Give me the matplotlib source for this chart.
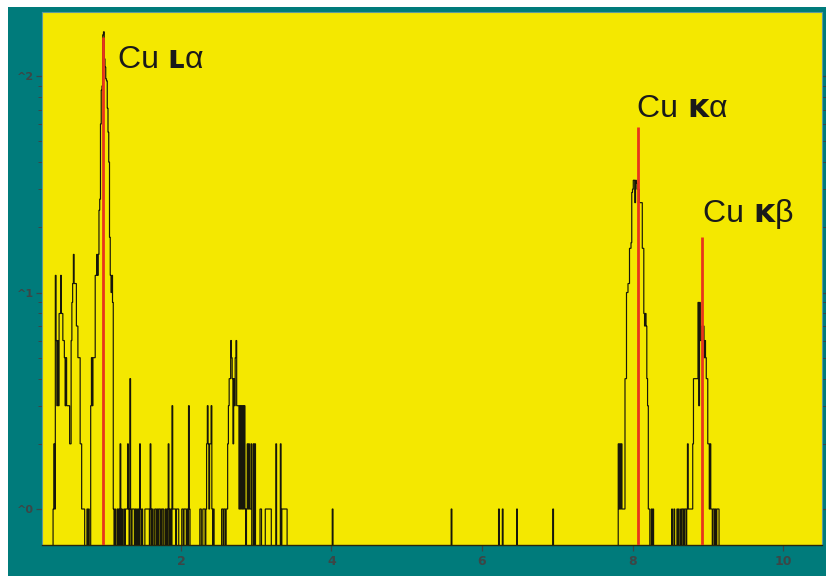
import numpy as np
import matplotlib
matplotlib.use("Agg")
import matplotlib.pyplot as plt
from matplotlib.patches import Rectangle
from matplotlib.ticker import FixedLocator, FixedFormatter, NullFormatter

# ---- spectrum data (counts per 10 eV channel) ----
CHANNEL_KEV = 0.01
E_MIN, E_MAX = 0.15, 10.52

# C/O region and Cu L-alpha peak, consecutive channels from 0.30 keV
low_start = 0.30
low_counts = [1, 2, 1, 12, 6, 3, 6, 3, 8, 8,
              12, 8, 8, 6, 6, 5, 3, 5, 3, 3,
              3, 3, 2, 2, 6, 9, 11, 15, 11, 11,
              11, 7, 7, 5, 5, 5, 2, 2, 1, 1,
              1, 1, 0, 0, 0, 1, 0, 1, 0, 0,
              3, 5, 3, 5, 5, 5, 12, 12, 15, 12,
              15, 24, 27, 60, 86, 90, 155, 160, 120, 110,
              97, 95, 71, 55, 40, 18, 12, 10, 12, 9]

# cluster around 2.6-3.0 keV
cluster_start = 2.62
cluster_counts = [2, 3, 4, 4, 6, 5, 4, 2, 4, 3,
                  5, 6, 3, 3, 3, 1, 3, 1, 3, 1,
                  3, 1, 3, 1, 0, 1, 2, 1, 2, 1,
                  1, 2, 0, 0, 2]

# Cu K-alpha peak, consecutive channels from 7.81 keV
ka_start = 7.81
ka_counts = [2, 1, 2, 1, 2, 1, 1, 1, 1, 4,
             4, 10, 10, 11, 11, 16, 16, 17, 29, 30,
             33, 33, 26, 33, 32, 30, 30, 30, 26, 26,
             26, 26, 16, 16, 8, 7, 8, 7, 4, 3,
             1, 1, 0, 0, 1, 0, 1]

# Cu K-beta peak, consecutive channels from 8.52 keV
kb_start = 8.52
kb_counts = [1, 0, 0, 1, 0, 0, 0, 1, 0, 1,
             0, 0, 1, 0, 1, 1, 0, 1, 1, 0,
             1, 2, 1, 1, 1, 1, 1, 1, 2, 4,
             4, 4, 4, 4, 4, 9, 3, 9, 6, 6,
             7, 6, 7, 5, 6, 5, 4, 4, 2, 2,
             1, 2, 1, 1, 0, 1, 1, 0, 1, 0,
             1, 1, 1]

# isolated channels
single_kev = [1.10, 1.12, 1.15, 1.17, 1.19, 1.21, 1.24, 1.26, 1.27, 1.28,
              1.29, 1.30, 1.32, 1.33, 1.35, 1.36, 1.37, 1.39, 1.41, 1.43,
              1.45, 1.46, 1.48, 1.52, 1.53, 1.54, 1.55, 1.56, 1.57, 1.59,
              1.60, 1.62, 1.65, 1.66, 1.68, 1.70, 1.71, 1.73, 1.75, 1.76,
              1.79, 1.81, 1.83, 1.84, 1.86, 1.88, 1.89, 1.90, 1.91, 1.92,
              1.94, 1.95, 1.96, 2.01, 2.02, 2.04, 2.05, 2.06, 2.08, 2.10,
              2.11, 2.25, 2.26, 2.29, 2.30, 2.31, 2.33, 2.34, 2.35, 2.36,
              2.37, 2.38, 2.39, 2.40, 2.41, 2.43, 2.54, 2.55, 2.57, 2.58,
              2.60, 2.61, 2.98, 3.05, 3.06, 3.12, 3.13, 3.14, 3.15, 3.16,
              3.17, 3.18, 3.19, 3.26, 3.32, 3.34, 3.35, 3.36, 3.37, 3.38,
              3.39, 3.40, 4.01, 5.59, 6.22, 6.27, 6.46, 6.94]
single_counts = [1, 1, 1, 1, 2, 1, 1, 1, 1, 1,
                 2, 1, 4, 1, 1, 1, 1, 1, 1, 1,
                 2, 1, 1, 1, 1, 1, 1, 1, 1, 2,
                 1, 1, 1, 1, 1, 1, 1, 1, 1, 1,
                 1, 1, 2, 1, 1, 3, 1, 1, 1, 1,
                 1, 1, 1, 1, 1, 1, 1, 1, 1, 3,
                 1, 1, 1, 1, 1, 1, 1, 2, 3, 2,
                 1, 2, 2, 3, 1, 1, 1, 1, 1, 1,
                 1, 1, 2, 1, 1, 1, 1, 1, 1, 1,
                 1, 1, 1, 2, 2, 1, 1, 1, 1, 1,
                 1, 1, 1, 1, 1, 1, 1, 1]

# Cu reference lines: element, small-capital shell letter, Greek suffix
line_element = ["Cu ", "Cu ", "Cu "]
line_shell = ["ʟ", "ᴋ", "ᴋ"]
line_greek = ["α", "α", "β"]
line_kev = [0.96, 8.07, 8.93]
line_heights = [152, 58, 18]
label_kev = [1.16, 8.06, 8.94]
label_counts = [109, 64.7, 21.2]

x_ticks = [2, 4, 6, 8, 10]
y_ticks = [1, 10, 100]
y_tick_labels = ["^0", "^1", "^2"]

# ---- assemble the channel array ----
n_chan = int(round((E_MAX - E_MIN) / CHANNEL_KEV))
edges = E_MIN + CHANNEL_KEV * np.arange(n_chan + 1)
spectrum = np.zeros(n_chan)


def chan(e):
    return int(round((e - E_MIN) / CHANNEL_KEV))


for start, vals in [(low_start, low_counts), (cluster_start, cluster_counts),
                    (ka_start, ka_counts), (kb_start, kb_counts)]:
    i0 = chan(start)
    spectrum[i0:i0 + len(vals)] = vals
for e, c in zip(single_kev, single_counts):
    spectrum[chan(e)] = c

# ---- figure ----
W, H = 826, 576
YELLOW = "#f4e800"
TEAL = "#007b7b"
TICK_GREY = "#3c4646"
FAMILY = ["Liberation Sans", "DejaVu Sans"]
LABEL_SIZE = 23

fig = plt.figure(figsize=(W / 100, H / 100), dpi=100, facecolor="white")
frame = Rectangle((8 / W, 0), 1 - 8 / W, 1 - 7 / H,
                  transform=fig.transFigure, facecolor=TEAL,
                  edgecolor="none", zorder=-10)
fig.add_artist(frame)

ax = fig.add_axes([42 / W, 31 / H, 780 / W, 533 / H], zorder=1)
ax.set_facecolor(YELLOW)
ax.set_yscale("log")
ax.set_xlim(0.153, 10.518)
ax.set_ylim(0.682, 197.5)

ax.stairs(spectrum, edges, baseline=None, color="#17170a", lw=0.85, zorder=3)

ax.vlines(line_kev, 0.682, line_heights, colors="#e8361c", lw=2.0, zorder=4)

# labels: "Cu" + bold small-capital shell letter + Greek line index
for el, sh, gr, ex, cy in zip(line_element, line_shell, line_greek,
                              label_kev, label_counts):
    t1 = ax.text(ex, cy, el, ha="left", va="baseline", fontsize=LABEL_SIZE,
                 family=FAMILY, color="#1a1a1a", zorder=5)
    t2 = ax.annotate(sh, xy=(1, 0), xycoords=t1, ha="left", va="bottom",
                     fontsize=LABEL_SIZE, fontweight="bold",
                     family=["DejaVu Sans"], color="#1a1a1a", zorder=5)
    ax.annotate(gr, xy=(1, 0), xycoords=t2, ha="left", va="bottom",
                fontsize=LABEL_SIZE, family=FAMILY, color="#1a1a1a", zorder=5)

ax.xaxis.set_major_locator(FixedLocator(x_ticks))
ax.set_xticklabels([str(t) for t in x_ticks])
ax.yaxis.set_major_locator(FixedLocator(y_ticks))
ax.yaxis.set_major_formatter(FixedFormatter(y_tick_labels))
minor = [m * d for d in (1, 10, 100) for m in range(2, 10)]
ax.yaxis.set_minor_locator(FixedLocator(minor))
ax.yaxis.set_minor_formatter(NullFormatter())

ax.tick_params(axis="x", direction="out", length=4, width=0.9, colors=TICK_GREY,
               labelsize=9, pad=3)
ax.tick_params(axis="y", which="major", direction="out", length=4, width=0.9,
               colors=TICK_GREY, labelsize=8, pad=2, left=True, right=True)
ax.tick_params(axis="y", which="minor", direction="out", length=3, width=0.7,
               colors=TICK_GREY, left=True, right=True)
for lbl in ax.get_xticklabels() + ax.get_yticklabels():
    lbl.set_fontweight("bold")

for side in ("left", "right", "top"):
    ax.spines[side].set_color("#5f9a9a")
    ax.spines[side].set_linewidth(0.8)
ax.spines["bottom"].set_color("#26260e")
ax.spines["bottom"].set_linewidth(1.0)

fig.savefig("out.png", dpi=100, facecolor=fig.get_facecolor())
